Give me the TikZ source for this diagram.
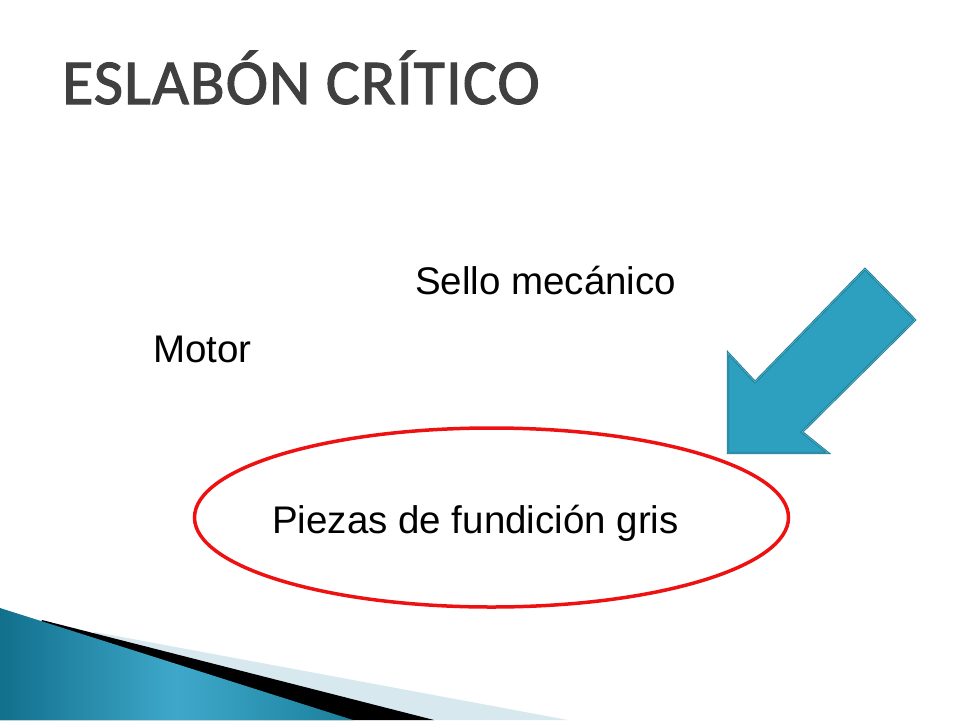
\documentclass[tikz,border=0pt]{standalone}
\usepackage{fontspec}
\setmainfont{Liberation Sans}
\newfontfamily\titlefont[FakeBold=1.6,LetterSpace=1.5]{Carlito}
\usetikzlibrary{shapes.geometric}
\definecolor{titlegray}{HTML}{404040}
\definecolor{arrowfill}{HTML}{2EA0BF}
\definecolor{arrowedge}{HTML}{1F7890}
\definecolor{arrowinner}{HTML}{4DB3CF}
\definecolor{ringred}{HTML}{EE1111}
\definecolor{bandlight}{HTML}{D8E8EF}
\definecolor{bluedark}{HTML}{11708C}
\definecolor{bluemid}{HTML}{3FA8CA}
\definecolor{blueright}{HTML}{1A7F9C}
\tikzset{
  bodytext/.style={font=\fontsize{38.5}{44}\selectfont, text=black, inner sep=0pt},
  titletext/.style={font=\titlefont\fontsize{64}{70}\selectfont, text=titlegray, inner sep=0pt},
  ring/.style={draw=ringred, line width=3.5pt, ellipse, inner sep=0pt},
  bigarrow/.style={fill=arrowfill, draw=arrowedge, line width=0.8pt, double=arrowinner, double distance=0.8pt, line join=miter}
}
\begin{document}
\begin{tikzpicture}[x=1pt,y=-1pt]
\useasboundingbox (0,0) rectangle (960,720);
\fill[white] (0,0) rectangle (960,720);
% bottom-left decoration
\fill[bandlight] (95,632) -- (568,720) -- (0,720) -- cycle;
\fill[black] (42,620) -- (434,720) -- (0,720) -- cycle;
\shade[left color=bluedark, right color=blueright, middle color=bluemid] (0,608) -- (353,720) -- (0,720) -- cycle;
% title
\node[titletext, anchor=base west] (title) at (62,104) {ESLABÓN CRÍTICO};
% texts
\node[bodytext, anchor=base west] (sello) at (415,294) {Sello mecánico};
\node[bodytext, anchor=base west] (motor) at (153,362) {Motor};
\node[ring, minimum width=594pt, minimum height=179pt] (ring) at (491.5,517.5) {};
\node[bodytext, anchor=base west] (piezas) at (272,533) {Piezas de fundición gris};
% arrow
\draw[bigarrow] (728,453) -- (728,353) -- (755,382) -- (865,269) -- (915,320) -- (802,432) -- (828,453) -- cycle;
\end{tikzpicture}
\end{document}
